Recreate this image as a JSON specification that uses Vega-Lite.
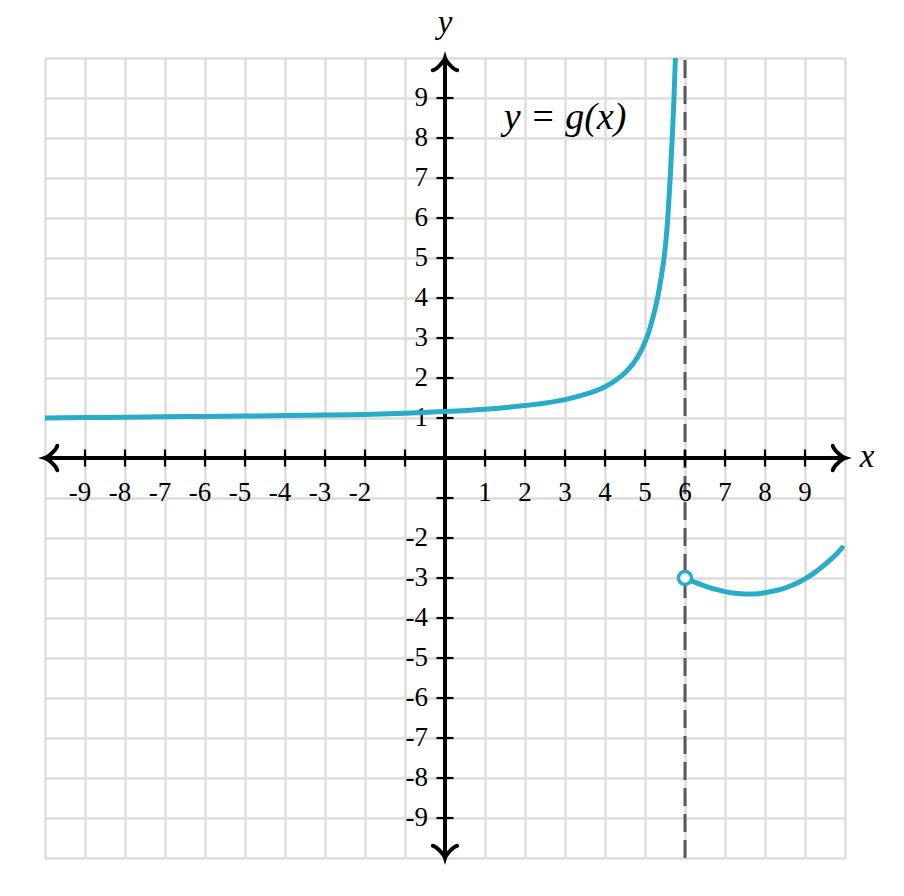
{
  "$schema": "https://vega.github.io/schema/vega-lite/v6.json",
  "width": 800,
  "height": 800,
  "autosize": {"type": "none"},
  "padding": {"left": 45, "top": 58, "right": 59, "bottom": 38},
  "background": "white",
  "datasets": {
    "left": [
      {"x": -10, "y": 1.0},
      {"x": -9, "y": 1.01},
      {"x": -8, "y": 1.02},
      {"x": -7, "y": 1.03},
      {"x": -6, "y": 1.04},
      {"x": -5, "y": 1.05},
      {"x": -4, "y": 1.06},
      {"x": -3, "y": 1.075},
      {"x": -2, "y": 1.09},
      {"x": -1, "y": 1.12},
      {"x": 0, "y": 1.16},
      {"x": 1, "y": 1.22},
      {"x": 2, "y": 1.31},
      {"x": 3, "y": 1.46},
      {"x": 3.5, "y": 1.59},
      {"x": 3.75, "y": 1.67},
      {"x": 4, "y": 1.78},
      {"x": 4.25, "y": 1.93},
      {"x": 4.5, "y": 2.13},
      {"x": 4.65, "y": 2.29},
      {"x": 4.8, "y": 2.5},
      {"x": 4.9, "y": 2.68},
      {"x": 5.03, "y": 2.97},
      {"x": 5.1, "y": 3.17},
      {"x": 5.2, "y": 3.52},
      {"x": 5.32, "y": 4.03},
      {"x": 5.41, "y": 4.55},
      {"x": 5.475, "y": 5.0},
      {"x": 5.525, "y": 5.45},
      {"x": 5.57, "y": 6.0},
      {"x": 5.63, "y": 7.0},
      {"x": 5.68, "y": 8.0},
      {"x": 5.725, "y": 9.0},
      {"x": 5.76, "y": 10.0}
    ],
    "right": [
      {"x": 6, "y": -3},
      {"x": 6.25, "y": -3.11},
      {"x": 6.5, "y": -3.2},
      {"x": 6.75, "y": -3.28},
      {"x": 7, "y": -3.34},
      {"x": 7.25, "y": -3.38},
      {"x": 7.5, "y": -3.4},
      {"x": 7.75, "y": -3.4},
      {"x": 8, "y": -3.37},
      {"x": 8.25, "y": -3.32},
      {"x": 8.5, "y": -3.25},
      {"x": 8.75, "y": -3.15},
      {"x": 9, "y": -3.02},
      {"x": 9.25, "y": -2.86},
      {"x": 9.5, "y": -2.66},
      {"x": 9.75, "y": -2.44},
      {"x": 9.93, "y": -2.24}
    ],
    "hole": [{"x": 6, "y": -3}],
    "asymptote": [{"x": 6, "y": -10, "y2": 10}],
    "axes": [
      {"x": -10, "x2": 10, "y": 0, "y2": 0},
      {"x": 0, "x2": 0, "y": -10, "y2": 10}
    ],
    "arrows": [
      {"x": 10, "y": 0, "dir": "right"},
      {"x": -10, "y": 0, "dir": "left"},
      {"x": 0, "y": 10, "dir": "up"},
      {"x": 0, "y": -10, "dir": "down"}
    ],
    "xticks": [
      {"x": -9, "y": 0}, {"x": -8, "y": 0}, {"x": -7, "y": 0}, {"x": -6, "y": 0},
      {"x": -5, "y": 0}, {"x": -4, "y": 0}, {"x": -3, "y": 0}, {"x": -2, "y": 0},
      {"x": -1, "y": 0}, {"x": 1, "y": 0}, {"x": 2, "y": 0}, {"x": 3, "y": 0},
      {"x": 4, "y": 0}, {"x": 5, "y": 0}, {"x": 6, "y": 0}, {"x": 7, "y": 0},
      {"x": 8, "y": 0}, {"x": 9, "y": 0}
    ],
    "yticks": [
      {"x": 0, "y": -9}, {"x": 0, "y": -8}, {"x": 0, "y": -7}, {"x": 0, "y": -6},
      {"x": 0, "y": -5}, {"x": 0, "y": -4}, {"x": 0, "y": -3}, {"x": 0, "y": -2},
      {"x": 0, "y": -1}, {"x": 0, "y": 1}, {"x": 0, "y": 2}, {"x": 0, "y": 3},
      {"x": 0, "y": 4}, {"x": 0, "y": 5}, {"x": 0, "y": 6}, {"x": 0, "y": 7},
      {"x": 0, "y": 8}, {"x": 0, "y": 9}
    ],
    "xlabels": [
      {"x": -9, "y": 0, "label": "-9"}, {"x": -8, "y": 0, "label": "-8"},
      {"x": -7, "y": 0, "label": "-7"}, {"x": -6, "y": 0, "label": "-6"},
      {"x": -5, "y": 0, "label": "-5"}, {"x": -4, "y": 0, "label": "-4"},
      {"x": -3, "y": 0, "label": "-3"}, {"x": -2, "y": 0, "label": "-2"},
      {"x": 1, "y": 0, "label": "1"}, {"x": 2, "y": 0, "label": "2"},
      {"x": 3, "y": 0, "label": "3"}, {"x": 4, "y": 0, "label": "4"},
      {"x": 5, "y": 0, "label": "5"}, {"x": 6, "y": 0, "label": "6"},
      {"x": 7, "y": 0, "label": "7"}, {"x": 8, "y": 0, "label": "8"},
      {"x": 9, "y": 0, "label": "9"}
    ],
    "ylabels": [
      {"x": 0, "y": -9, "label": "-9"}, {"x": 0, "y": -8, "label": "-8"},
      {"x": 0, "y": -7, "label": "-7"}, {"x": 0, "y": -6, "label": "-6"},
      {"x": 0, "y": -5, "label": "-5"}, {"x": 0, "y": -4, "label": "-4"},
      {"x": 0, "y": -3, "label": "-3"}, {"x": 0, "y": -2, "label": "-2"},
      {"x": 0, "y": 1, "label": "1"}, {"x": 0, "y": 2, "label": "2"},
      {"x": 0, "y": 3, "label": "3"}, {"x": 0, "y": 4, "label": "4"},
      {"x": 0, "y": 5, "label": "5"}, {"x": 0, "y": 6, "label": "6"},
      {"x": 0, "y": 7, "label": "7"}, {"x": 0, "y": 8, "label": "8"},
      {"x": 0, "y": 9, "label": "9"}
    ],
    "names": [
      {"x": 10, "y": 0, "label": "x", "which": "x"},
      {"x": 0, "y": 10, "label": "y", "which": "y"}
    ],
    "title": [{"x": 3, "y": 8.5, "label": "y = g(x)"}]
  },
  "encoding": {
    "x": {
      "field": "x",
      "type": "quantitative",
      "scale": {"domain": [-10, 10], "nice": false, "zero": false},
      "axis": {
        "values": [-10, -9, -8, -7, -6, -5, -4, -3, -2, -1, 0, 1, 2, 3, 4, 5, 6, 7, 8, 9, 10],
        "grid": true, "gridColor": "#dcdcdc", "gridWidth": 2.5,
        "labels": false, "ticks": false, "domain": false, "title": null
      }
    },
    "y": {
      "field": "y",
      "type": "quantitative",
      "scale": {"domain": [-10, 10], "nice": false, "zero": false},
      "axis": {
        "values": [-10, -9, -8, -7, -6, -5, -4, -3, -2, -1, 0, 1, 2, 3, 4, 5, 6, 7, 8, 9, 10],
        "grid": true, "gridColor": "#dcdcdc", "gridWidth": 2.5,
        "labels": false, "ticks": false, "domain": false, "title": null
      }
    }
  },
  "layer": [
    {
      "data": {"name": "asymptote"},
      "mark": {"type": "rule", "stroke": "#5a5a5a", "strokeWidth": 3, "strokeDash": [18, 8]},
      "encoding": {"y2": {"field": "y2"}}
    },
    {
      "data": {"name": "axes"},
      "mark": {"type": "rule", "stroke": "black", "strokeWidth": 4},
      "encoding": {"x2": {"field": "x2"}, "y2": {"field": "y2"}}
    },
    {
      "data": {"name": "xticks"},
      "mark": {"type": "tick", "orient": "vertical", "color": "black", "size": 17, "thickness": 2.2, "opacity": 1}
    },
    {
      "data": {"name": "yticks"},
      "mark": {"type": "tick", "orient": "horizontal", "color": "black", "size": 17, "thickness": 2.2, "opacity": 1}
    },
    {
      "data": {"name": "arrows"},
      "mark": {"type": "point", "filled": false, "stroke": "black", "strokeWidth": 4, "strokeCap": "round", "size": 600, "opacity": 1},
      "encoding": {
        "shape": {
          "field": "dir",
          "type": "nominal",
          "scale": {
            "domain": ["right", "left", "up", "down"],
            "range": [
              "M -1 -1 C -0.93 -0.62 -0.2 -0.06 0 0 C -0.2 0.06 -0.93 0.62 -1 1",
              "M 1 -1 C 0.93 -0.62 0.2 -0.06 0 0 C 0.2 0.06 0.93 0.62 1 1",
              "M -1 1 C -0.62 0.93 -0.06 0.2 0 0 C 0.06 0.2 0.62 0.93 1 1",
              "M -1 -1 C -0.62 -0.93 -0.06 -0.2 0 0 C 0.06 -0.2 0.62 -0.93 1 -1"
            ]
          },
          "legend": null
        }
      }
    },
    {
      "data": {"name": "xlabels"},
      "transform": [{"filter": "datum.x < 0"}],
      "mark": {"type": "text", "font": "Liberation Serif", "fontSize": 27, "align": "center", "baseline": "alphabetic", "dx": -5, "dy": 43, "color": "black"},
      "encoding": {"text": {"field": "label"}}
    },
    {
      "data": {"name": "xlabels"},
      "transform": [{"filter": "datum.x > 0"}],
      "mark": {"type": "text", "font": "Liberation Serif", "fontSize": 27, "align": "center", "baseline": "alphabetic", "dx": 0, "dy": 43, "color": "black"},
      "encoding": {"text": {"field": "label"}}
    },
    {
      "data": {"name": "ylabels"},
      "mark": {"type": "text", "font": "Liberation Serif", "fontSize": 27, "align": "right", "baseline": "middle", "dx": -17, "color": "black"},
      "encoding": {"text": {"field": "label"}}
    },
    {
      "data": {"name": "names"},
      "transform": [{"filter": "datum.which == 'x'"}],
      "mark": {"type": "text", "font": "Liberation Serif", "fontStyle": "italic", "fontSize": 33, "align": "center", "baseline": "alphabetic", "dx": 22, "dy": 9, "color": "black"},
      "encoding": {"text": {"field": "label"}}
    },
    {
      "data": {"name": "names"},
      "transform": [{"filter": "datum.which == 'y'"}],
      "mark": {"type": "text", "font": "Liberation Serif", "fontStyle": "italic", "fontSize": 33, "align": "center", "baseline": "alphabetic", "dy": -25, "color": "black"},
      "encoding": {"text": {"field": "label"}}
    },
    {
      "data": {"name": "title"},
      "mark": {"type": "text", "font": "Liberation Serif", "fontStyle": "italic", "fontSize": 38, "align": "center", "baseline": "middle", "color": "black"},
      "encoding": {"text": {"field": "label"}}
    },
    {
      "data": {"name": "left"},
      "mark": {"type": "line", "color": "#29abca", "strokeWidth": 5, "interpolate": "monotone", "strokeCap": "butt"}
    },
    {
      "data": {"name": "right"},
      "mark": {"type": "line", "color": "#29abca", "strokeWidth": 5, "interpolate": "monotone", "strokeCap": "round"}
    },
    {
      "data": {"name": "hole"},
      "mark": {"type": "point", "shape": "circle", "filled": true, "fill": "white", "stroke": "#29abca", "strokeWidth": 3.5, "size": 170, "opacity": 1}
    }
  ],
  "config": {
    "view": {"stroke": null}
  }
}
